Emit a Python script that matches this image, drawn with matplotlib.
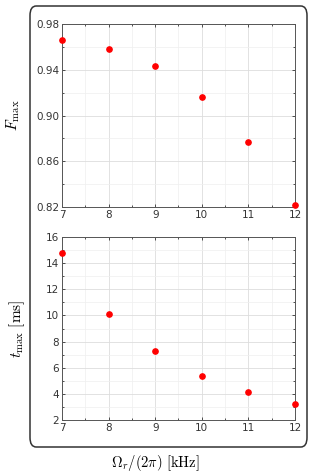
import numpy as np
import matplotlib.pyplot as plt
from matplotlib.patches import FancyBboxPatch
from matplotlib.ticker import MultipleLocator, FixedLocator

plt.rcParams['mathtext.fontset'] = 'cm'

freq = [7, 8, 9, 10, 11, 12]
f_max = [0.966, 0.958, 0.943, 0.916, 0.877, 0.822]
t_max = [14.75, 10.13, 7.30, 5.39, 4.11, 3.20]
f_ticks = [0.82, 0.86, 0.90, 0.94, 0.98]
f_minor = [0.84, 0.88, 0.92, 0.96]

fig = plt.figure(figsize=(3.11, 4.76), dpi=100)

# rounded frame around both panels
frame = FancyBboxPatch((30 / 311, 1 - 447 / 476), 277 / 311, 441 / 476,
                       boxstyle="round,pad=0,rounding_size=0.02",
                       transform=fig.transFigure, fill=False,
                       edgecolor='#333333', linewidth=1.1)
fig.patches.append(frame)

ax1 = fig.add_axes([62 / 311, 1 - 207 / 476, 233 / 311, 183 / 476])
ax2 = fig.add_axes([62 / 311, 1 - 420 / 476, 233 / 311, 183 / 476])


def style(ax):
    for s in ax.spines.values():
        s.set_color('#555555')
        s.set_linewidth(0.7)
    ax.tick_params(which='both', direction='in', top=True, right=True,
                   colors='#333333', labelsize=7.5, length=2.5, width=0.6, pad=2)
    ax.tick_params(which='minor', length=1.5)
    ax.xaxis.set_major_locator(MultipleLocator(1))
    ax.xaxis.set_minor_locator(MultipleLocator(0.5))
    ax.grid(True, which='major', color='#dddddd', linewidth=0.6)
    ax.grid(True, which='minor', color='#efefef', linewidth=0.5)
    ax.set_axisbelow(True)
    ax.set_xlim(7, 12)


style(ax1)
ax1.plot(freq, f_max, 'o', color='red', ms=3.8, clip_on=False, zorder=5)
ax1.set_ylim(0.82, 0.98)
ax1.yaxis.set_major_locator(FixedLocator(f_ticks))
ax1.yaxis.set_minor_locator(FixedLocator(f_minor))
ax1.yaxis.set_major_formatter(plt.FormatStrFormatter('%.2f'))
ax1.set_ylabel(r'$F_{\mathrm{max}}$', fontsize=11, labelpad=10)

style(ax2)
ax2.plot(freq, t_max, 'o', color='red', ms=3.8, clip_on=False, zorder=5)
ax2.set_ylim(2, 16)
ax2.yaxis.set_major_locator(MultipleLocator(2))
ax2.yaxis.set_minor_locator(MultipleLocator(1))
ax2.set_ylabel(r'$t_{\mathrm{max}}\ [\mathrm{ms}]$', fontsize=11, labelpad=14)

fig.text(0.5, 1 - 463 / 476, r'$\Omega_r/(2\pi)\ [\mathrm{kHz}]$',
         ha='center', va='center', fontsize=10.5)

fig.savefig('out.png', dpi=100)
